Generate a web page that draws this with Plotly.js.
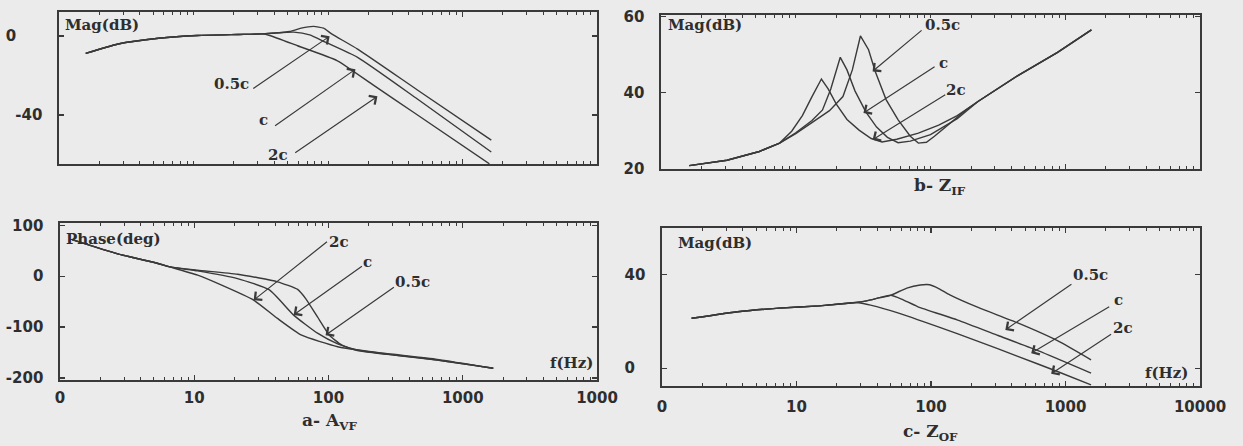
<!DOCTYPE html>
<html><head><meta charset="utf-8">
<script src="https://cdn.plot.ly/plotly-3.0.1.min.js"></script>
<style>html,body{margin:0;padding:0;background:#ebebeb;overflow:hidden;} #chart{width:1243px;height:446px;}</style>
</head><body><div id="chart"></div>
<script>
// ---------- DATA ----------
const seriesNames = ['0.5c', 'c', '2c'];

// a- A_VF magnitude (dB)
const freqA_mag_05c = [1.58, 2.75, 5.50, 10.7, 21.4, 32.4, 51.9, 63.1, 78.2, 92.7, 106.4, 166, 462, 1637];
const magA_05c      = [-8.9, -4.1, -1.2, 0.2, 0.7, 1.0, 2.2, 3.9, 4.8, 3.9, 1.0, -6.7, -27.4, -52.8];
const freqA_mag_c   = [1.58, 2.75, 5.50, 10.7, 21.4, 32.4, 42.3, 55.6, 73.1, 95.5, 166, 462, 1637];
const magA_c        = [-8.9, -4.1, -1.2, 0.2, 0.7, 1.0, 1.6, 1.9, 0.5, -3.2, -10.9, -32.0, -58.8];
const freqA_mag_2c  = [1.58, 2.75, 5.50, 10.7, 21.4, 32.4, 36.9, 59.4, 117.5, 219, 432, 1585];
const magA_2c       = [-8.9, -4.1, -1.2, 0.2, 0.7, 1.0, 0.2, -5.0, -12.6, -25.1, -38.7, -64.8];

// a- A_VF phase (deg)
const freqA_ph_05c = [1.23, 2.69, 5.37, 6.58, 10.6, 21.0, 41.7, 58.9, 67.6, 82.8, 101.6, 125, 164, 326, 646, 1687];
const phA_05c      = [72, 44, 25, 18.3, 11.8, 3.9, -11, -26, -44, -80, -116, -135, -146, -155.8, -164.9, -181];
const freqA_ph_c   = [1.23, 2.69, 5.37, 6.58, 10.6, 21.0, 36.3, 55.0, 82.8, 117, 164, 326, 646, 1687];
const phA_c        = [72, 44, 25, 18.3, 10.5, -4.6, -27, -76.5, -112, -133, -145, -155.5, -164.7, -181];
const freqA_ph_2c  = [1.23, 2.69, 5.37, 6.58, 10.6, 16.0, 27.7, 41.7, 63.1, 117, 231, 646, 1687];
const phA_2c       = [72, 44, 25, 18.3, 2, -17.6, -47, -83, -116, -138.6, -150, -163.4, -181];

// b- Z_IF magnitude (dB)
const freqB_05c = [1.62, 3.09, 5.37, 7.59, 10, 13.2, 17.8, 22.4, 26.3, 30.2, 34.7, 38.9, 46.8, 57.5, 70.8, 81.3, 93.3, 107, 140, 184, 225, 445, 877, 1563];
const magB_05c  = [20.9, 22.3, 24.6, 26.8, 29.3, 32.3, 35.3, 39, 46, 54.9, 51.3, 45.6, 38.2, 32.9, 28.6, 26.8, 27, 28.6, 32, 35.5, 37.7, 44.5, 50.6, 56.5];
const freqB_c   = [1.62, 3.09, 5.37, 7.59, 10, 13.2, 15.8, 18.2, 21.4, 24.0, 27.5, 33.1, 39.8, 47.9, 57.5, 70.8, 100, 158, 225, 445, 877, 1563];
const magB_c    = [20.9, 22.3, 24.6, 26.8, 29.5, 32.7, 35.5, 41, 49.3, 46, 40.5, 35, 31, 28.3, 26.9, 27.3, 29, 33.2, 37.7, 44.5, 50.6, 56.5];
const freqB_2c  = [1.62, 3.09, 5.37, 7.59, 9.33, 11.2, 13.2, 15.5, 17.4, 20.0, 24.0, 29.5, 36.3, 43.7, 56.2, 81.3, 115, 158, 225, 445, 877, 1563];
const magB_2c   = [20.9, 22.3, 24.6, 26.8, 29.9, 34, 39, 43.6, 41, 37, 33, 30.2, 28, 27.1, 27.8, 29.4, 31.5, 34, 37.7, 44.5, 50.6, 56.5];

// c- Z_OF magnitude (dB)
const freqC_05c = [1.66, 3.80, 7.41, 14.8, 25.1, 33.1, 41.7, 50.1, 66.1, 83.2, 97.7, 115, 138, 224, 437, 871, 1549];
const magC_05c  = [21.4, 24.3, 25.7, 26.7, 27.9, 28.8, 30.2, 31.2, 34.3, 35.6, 35.7, 34.0, 31.4, 26.0, 19.5, 11.8, 3.6];
const freqC_c   = [1.66, 3.80, 7.41, 14.8, 25.1, 33.1, 41.7, 50.1, 60.3, 79.4, 158, 316, 631, 1549];
const magC_c    = [21.4, 24.3, 25.7, 26.7, 27.9, 28.8, 30.2, 31.2, 29.6, 26.4, 20.6, 14.0, 7.4, -2.1];
const freqC_2c  = [1.66, 3.80, 7.41, 14.8, 25.1, 28.8, 35.5, 57.5, 112, 224, 437, 871, 1549];
const magC_2c   = [21.4, 24.3, 25.7, 26.7, 27.9, 28.0, 27.0, 23.6, 17.8, 11.5, 5.2, -1.4, -7.1];

const freqTicks = [1, 10, 100, 1000, 10000];
const freqTickTextA = ['0', '10', '100', '1000', '1000'];
const freqTickTextC = ['0', '10', '100', '1000', '10000'];
const magTicksA = [0, -40];
const magTickTextA = ['0\u00a0\u00a0\u00a0\u00a0\u00a0', '-40'];
const phaseTicks = [100, 0, -100, -200];
const phaseTickText = ['100', '0', '-100', '-200'];
const magTicksB = [20, 40, 60];
const magTickTextB = ['20', '40', '60'];
const magTicksC = [0, 40];
const magTickTextC = ['0\u00a0\u00a0', '40'];

// ---------- STYLE / LAYOUT ----------
const W = 1243, H = 446;
const px = x => x / W, py = y => 1 - y / H;
const INK = '#2e2e2e', LINE = '#3a3a3a', BG = '#ebebeb';
const tickFont = {family: 'DejaVu Sans', size: 15, color: INK, weight: 700};
const serif = (s) => ({family: 'DejaVu Serif', size: s, color: INK, weight: 700});

function tr(x, y, xa, ya) {
  return {x: x, y: y, xaxis: xa, yaxis: ya, type: 'scatter', mode: 'lines',
    line: {color: LINE, width: 1.4, shape: 'spline', smoothing: 0.5}, hoverinfo: 'skip', showlegend: false};
}
const data = [
  tr(freqA_mag_05c, magA_05c, 'x', 'y'), tr(freqA_mag_c, magA_c, 'x', 'y'), tr(freqA_mag_2c, magA_2c, 'x', 'y'),
  tr(freqA_ph_05c, phA_05c, 'x2', 'y2'), tr(freqA_ph_c, phA_c, 'x2', 'y2'), tr(freqA_ph_2c, phA_2c, 'x2', 'y2'),
  tr(freqB_05c, magB_05c, 'x3', 'y3'), tr(freqB_c, magB_c, 'x3', 'y3'), tr(freqB_2c, magB_2c, 'x3', 'y3'),
  tr(freqC_05c, magC_05c, 'x4', 'y4'), tr(freqC_c, magC_c, 'x4', 'y4'), tr(freqC_2c, magC_2c, 'x4', 'y4')
];
data.slice(6, 9).forEach(t => { t.line.shape = 'linear'; });

function xax(x0, x1, anchor, ticktext, standoff) {
  return {type: 'log', range: [0, 4], domain: [px(x0), px(x1)], anchor: anchor,
    showline: true, linecolor: LINE, linewidth: 1.6, mirror: 'ticks', ticks: 'inside', ticklen: 5,
    tickcolor: LINE, tickwidth: 1.3, tickvals: freqTicks, ticktext: ticktext || ['', '', '', '', ''],
    showticklabels: !!ticktext, tickfont: tickFont, ticklabelstandoff: standoff || 0,
    minor: {ticks: 'inside', ticklen: 3, tickcolor: LINE, tickwidth: 1, dtick: 'D1', showgrid: false},
    showgrid: false, zeroline: false, fixedrange: true};
}
function yax(y0, y1, anchor, range, tickvals, ticktext) {
  return {range: range, domain: [py(y1), py(y0)], anchor: anchor,
    showline: true, linecolor: LINE, linewidth: 1.6, mirror: 'ticks', ticks: 'inside', ticklen: 5,
    tickcolor: LINE, tickwidth: 1.3, tickvals: tickvals, ticktext: ticktext, tickfont: tickFont, ticklabelstandoff: 12,
    showgrid: false, zeroline: false, fixedrange: true};
}

const L = Math.log10;
function arrow(xr, yr, tx, ty, hx, hy) {
  return {xref: xr, yref: yr, axref: xr, ayref: yr, x: L(hx), y: hy, ax: L(tx), ay: ty, text: '',
    showarrow: true, arrowhead: 4, arrowsize: 1.7, arrowwidth: 1.2, arrowcolor: LINE, standoff: 0, startstandoff: 0};
}
function lab(xr, yr, x, y, t) {
  return {xref: xr, yref: yr, x: L(x), y: y, text: t, showarrow: false, font: serif(15), xanchor: 'center', yanchor: 'middle'};
}
function ptxt(x, y, t, anchor, size) {
  return {xref: 'paper', yref: 'paper', x: px(x), y: py(y), text: t, showarrow: false, font: serif(size || 15),
    xanchor: anchor || 'left', yanchor: 'middle'};
}

const annotations = [
  // panel a mag
  lab('x', 'y', 19.3, -24.6, seriesNames[0]), arrow('x', 'y', 27.1, -27.2, 102.8, -0.2),
  lab('x', 'y', 33.3, -42.6, seriesNames[1]), arrow('x', 'y', 39.4, -46, 160, -16.9),
  lab('x', 'y', 42.3, -60.5, seriesNames[2]), arrow('x', 'y', 55.6, -59.7, 233, -30.6),
  // panel a phase
  lab('x2', 'y2', 118.9, 67, seriesNames[2]), arrow('x2', 'y2', 100, 70, 27.7, -47),
  lab('x2', 'y2', 195, 28, seriesNames[1]), arrow('x2', 'y2', 182, 21.6, 55.0, -76),
  lab('x2', 'y2', 420, -12, seriesNames[0]), arrow('x2', 'y2', 315, -19.6, 95.1, -116),
  // panel b
  lab('x3', 'y3', 122, 57.8, seriesNames[0]), arrow('x3', 'y3', 88.1, 56.7, 37.2, 45.6),
  lab('x3', 'y3', 124, 47.8, seriesNames[1]), arrow('x3', 'y3', 110, 47.1, 31.8, 34.7),
  lab('x3', 'y3', 155, 40.8, seriesNames[2]), arrow('x3', 'y3', 132, 39.7, 37.2, 27.7),
  // panel c
  lab('x4', 'y4', 1542, 40, seriesNames[0]), arrow('x4', 'y4', 1135, 36.4, 357, 16.4),
  lab('x4', 'y4', 2483, 29.3, seriesNames[1]), arrow('x4', 'y4', 2168, 26.7, 556, 6.4),
  lab('x4', 'y4', 2655, 17.1, seriesNames[2]), arrow('x4', 'y4', 2239, 15, 782, -2.4),
  // axis labels & captions
  ptxt(63, 25, 'Mag(dB)'), ptxt(64, 239, 'Phase(deg)'), ptxt(666, 25, 'Mag(dB)'), ptxt(676, 243, 'Mag(dB)'),
  ptxt(595, 363, 'f(Hz)', 'right'), ptxt(1190, 373, 'f(Hz)', 'right'),
  ptxt(329, 421, 'a- A<sub>VF</sub>', 'center', 17), ptxt(940, 186, 'b- Z<sub>IF</sub>', 'center', 17),
  ptxt(930, 432, 'c- Z<sub>OF</sub>', 'center', 17)
];

const layout = {
  width: W, height: H, margin: {l: 0, r: 0, t: 0, b: 0}, paper_bgcolor: BG, plot_bgcolor: BG,
  showlegend: false,
  xaxis: xax(59, 597, 'y'), yaxis: yax(12, 164, 'x', [-64.9, 12.1], magTicksA, magTickTextA),
  xaxis2: xax(60, 597, 'y2', freqTickTextA, 3), yaxis2: yax(223, 380, 'x2', [-204, 104.6], phaseTicks, phaseTickText),
  xaxis3: xax(661, 1200, 'y3'), yaxis3: yax(15, 169, 'x3', [20, 60.4], magTicksB, magTickTextB),
  xaxis4: xax(662, 1200, 'y4', freqTickTextC, 6), yaxis4: yax(228, 386, 'x4', [-7.6, 60], magTicksC, magTickTextC),
  annotations: annotations
};

Plotly.newPlot('chart', data, layout, {displayModeBar: false, staticPlot: true});
</script></body></html>
